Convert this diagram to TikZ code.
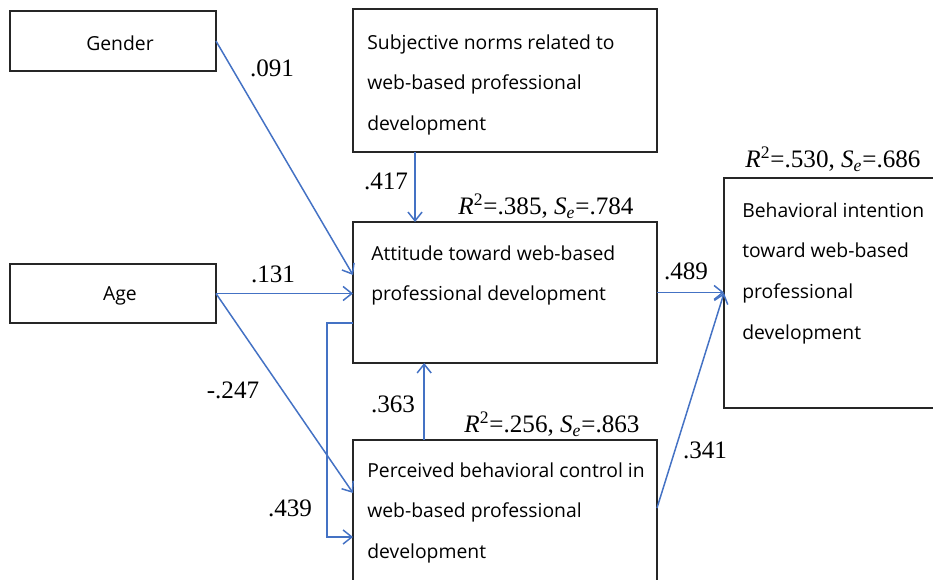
\documentclass[tikz,border=0pt]{standalone}
\usepackage{fontspec}
\setmainfont{Liberation Serif}
\newfontfamily\boxfont{Open Sans}
\usetikzlibrary{calc}
\usetikzlibrary{arrows.meta}
\definecolor{pathblue}{RGB}{68,114,196}

\begin{document}
\begin{tikzpicture}[x=0.02cm, y=-0.02cm,
    box/.style={draw=black!85, line width=0.8pt, inner sep=0pt, outer sep=0pt},
    boxtext/.style={font=\boxfont\fontsize{11}{23.3}\selectfont, align=left, inner sep=0pt, anchor=north west},
    coef/.style={font=\fontsize{14.3}{16}\selectfont, inner sep=0pt},
    effect/.style={draw=pathblue, line width=0.85pt, -{Straight Barb[length=5pt,width=8pt]}}]
            \useasboundingbox (0,0) rectangle (933,579);
            \clip (0,0) rectangle (933,579);

            % boxes
            \node[box, minimum width=4.12cm, minimum height=1.2cm] (gender) at (113,41) {};
            \node[box, minimum width=4.12cm, minimum height=1.18cm] (age) at (113,293.5) {};
            \node[box, minimum width=6.08cm, minimum height=2.86cm] (norms) at (505,80.5) {};
            \node[box, minimum width=6.08cm, minimum height=2.82cm] (attitude) at (505,292.5) {};
            \node[box, minimum width=6.08cm, minimum height=2.84cm] (control) at (505,511) {};
            \node[box, minimum width=4.32cm, minimum height=4.6cm] (intention) at (832,293) {};

            % box texts
            \node[font=\boxfont\fontsize{11}{13}\selectfont] (gendertxt) at (120,43) {Gender};
            \node[font=\boxfont\fontsize{11}{13}\selectfont] (agetxt) at (120,296) {Age};
            \node[boxtext] (normstxt) at (367,34) {Subjective norms related to\\web-based professional\\development};
            \node[boxtext] (attitudetxt) at (371,245) {Attitude toward web-based\\professional development};
            \node[boxtext] (controltxt) at (367,462) {Perceived behavioral control in\\web-based professional\\development};
            \node[boxtext] (intentiontxt) at (742,202) {Behavioral intention\\toward web-based\\professional\\development};

            % connector ends
            \coordinate (attG) at ($(attitude.north west)!0.376!(attitude.south west)$);
            \coordinate (ctlA) at ($(control.north west)!0.373!(control.south west)$);
            \coordinate (attOut) at ($(attitude.north west)!0.716!(attitude.south west)$);
            \coordinate (ctlIn) at ($(control.north west)!0.683!(control.south west)$);
            \coordinate (normsOut) at ($(norms.south west)!0.204!(norms.south east)$);
            \coordinate (ctlOut) at ($(control.north west)!0.234!(control.north east)$);
            \coordinate (ctlBI) at ($(control.north east)!0.479!(control.south east)$);

            \draw[effect] (gender.east) -- (attG);
            \draw[effect] (age.east) -- (age.east -| attitude.west);
            \draw[effect] (age.east) -- (ctlA);
            \draw[effect] (attOut) -- ++(-26,0) |- (ctlIn);
            \draw[effect] (normsOut) -- (normsOut |- attitude.north);
            \draw[effect] (ctlOut) -- (ctlOut |- attitude.south);
            \draw[effect] (attitude.east) -- (attitude.east -| intention.west);
            \draw[effect] (ctlBI) -- (intention.west);

            % coefficients
            \node[coef] (wGender) at (272,68) {.091};
            \node[coef] (wNorms) at (386,181) {.417};
            \node[coef] (wAgeAtt) at (273,274) {.131};
            \node[coef] (wAgeCtl) at (233,390) {-.247};
            \node[coef] (wLoop) at (290,508) {.439};
            \node[coef] (wCtlAtt) at (393,404) {.363};
            \node[coef] (wAttInt) at (686,271) {.489};
            \node[coef] (wCtlInt) at (705,450) {.341};
            \node[coef] (fitAtt) at (546,206) {\textit{R}\textsuperscript{2}=.385, \textit{S}\textsubscript{\textit{e}}=.784};
            \node[coef] (fitInt) at (833,159) {\textit{R}\textsuperscript{2}=.530, \textit{S}\textsubscript{\textit{e}}=.686};
            \node[coef] (fitCtl) at (552,424) {\textit{R}\textsuperscript{2}=.256, \textit{S}\textsubscript{\textit{e}}=.863};
        \end{tikzpicture}
\end{document}
